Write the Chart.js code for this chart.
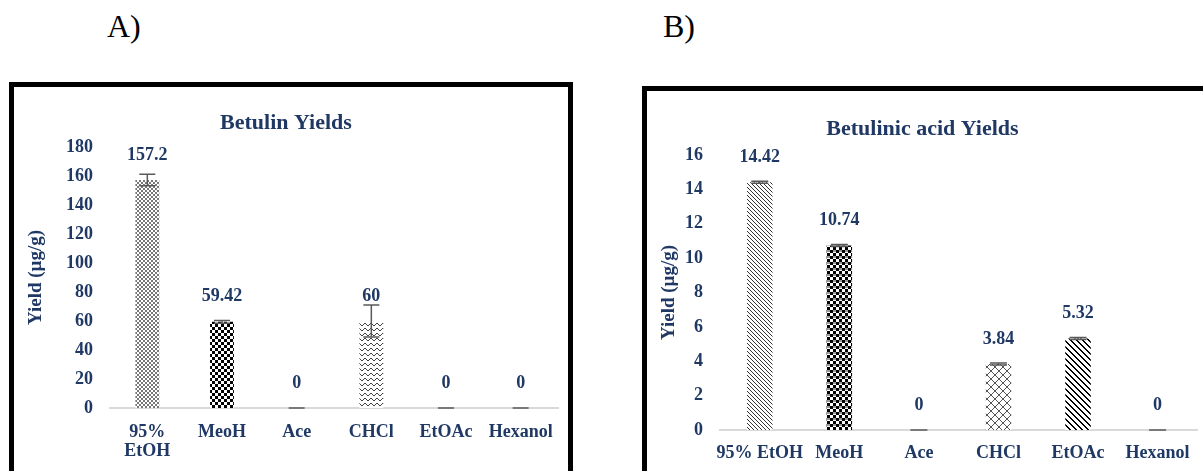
<!DOCTYPE html>
<html lang="en">
  <head>
    <meta charset="UTF-8" />
    <script src="https://cdn.jsdelivr.net/npm/chart.js@4.4.1/dist/chart.umd.min.js"></script>
    <style>
      body {
        margin: 0;
        width: 1203px;
        height: 471px;
        overflow: hidden;
        background: #fff;
        position: relative;
        font-family: "Liberation Serif", "Times New Roman", serif;
      }
      .tag {
        position: absolute;
        top: 8px;
        font-size: 32px;
        color: #000;
      }
      .box {
        position: absolute;
        border: 5px solid #000;
        background: #fff;
      }
      #boxA { left: 9px; top: 82px; width: 554px; height: 420px; }
      #boxB { left: 642px; top: 86px; width: 600px; height: 420px; }
      canvas { position: absolute; left: 0; top: 0; }
    </style>
    <title>Betulin yields</title>
  </head>
  <body>
    <div class="tag" style="left: 107px">A)</div>
    <div class="tag" style="left: 663px">B)</div>
    <div class="box" id="boxA"><canvas id="chartA" width="554" height="384"></canvas></div>
    <div class="box" id="boxB"><canvas id="chartB" width="556" height="380"></canvas></div>
    <script>
      const categoriesA = [["95%", "EtOH"], "MeoH", "Ace", "CHCl", "EtOAc", "Hexanol"];
      const betulinValues = [157.2, 59.42, 0, 60, 0, 0];
      const betulinErrors = [4, 1, 0, 11, 0, 0];

      const categoriesB = ["95% EtOH", "MeoH", "Ace", "CHCl", "EtOAc", "Hexanol"];
      const acidValues = [14.42, 10.74, 0, 3.84, 5.32, 0];
      const acidErrors = [0.06, 0.06, 0, 0.06, 0.06, 0];

      const navy = "#1F3864";
      const font = { family: "'Liberation Serif', 'Times New Roman', serif", size: 18, weight: "bold", lineHeight: 1.1 };

      // little tiles for the hatch fills
      function makePattern(w, h, draw) {
        const c = document.createElement("canvas");
        c.width = w;
        c.height = h;
        const g = c.getContext("2d");
        g.fillStyle = "#fff";
        g.fillRect(0, 0, w, h);
        draw(g);
        return document.getElementById("chartA").getContext("2d").createPattern(c, "repeat");
      }

      const fineCross = makePattern(4, 4, (g) => {
        g.fillStyle = "#777";
        for (let i = 0; i < 4; i++) {
          g.fillRect(i, i, 1, 1);
          g.fillRect(i, 3 - i, 1, 1);
        }
      });
      const checker = makePattern(6, 6, (g) => {
        g.fillStyle = "#000";
        g.fillRect(0, 0, 3, 3);
        g.fillRect(3, 3, 3, 3);
      });
      const zigzag = makePattern(6, 5, (g) => {
        g.strokeStyle = "#444";
        g.lineWidth = 1;
        g.beginPath();
        g.moveTo(0, 4);
        g.lineTo(3, 1);
        g.lineTo(6, 4);
        g.stroke();
      });
      const fineDiag = makePattern(4, 4, (g) => {
        g.fillStyle = "#333";
        for (let i = 0; i < 4; i++) g.fillRect(i, i, 1, 1);
      });
      const greyChecker = makePattern(6, 6, (g) => {
        g.fillStyle = "#999";
        g.fillRect(0, 3, 6, 2);
        g.fillStyle = "#000";
        g.fillRect(0, 0, 3, 3);
        g.fillRect(3, 3, 3, 3);
      });
      const crossHatch = makePattern(8, 8, (g) => {
        g.fillStyle = "#555";
        for (let i = 0; i < 8; i++) {
          g.fillRect(i, i, 1, 1);
          g.fillRect(i, 7 - i, 1, 1);
        }
      });
      const wideDiag = makePattern(6, 6, (g) => {
        g.fillStyle = "#000";
        for (let i = 0; i < 6; i++) g.fillRect(i, i, 2, 1);
        g.fillRect(0, 5, 1, 1);
      });

      // error bars + value labels, drawn from the bar elements and the y scale
      const extras = {
        id: "extras",
        afterDatasetsDraw(chart, args, opts) {
          const ctx = chart.ctx;
          const y = chart.scales.y;
          const ds = chart.data.datasets[0];
          const bars = chart.getDatasetMeta(0).data;
          ctx.save();
          bars.forEach((bar, i) => {
            const v = ds.data[i];
            const e = opts.errors[i];
            const top = y.getPixelForValue(v + e);
            const bot = y.getPixelForValue(Math.max(v - e, 0));
            const hw = opts.cap / 2;
            ctx.strokeStyle = "#595959";
            ctx.lineWidth = 1.5;
            ctx.beginPath();
            ctx.moveTo(bar.x, top);
            ctx.lineTo(bar.x, bot);
            ctx.moveTo(bar.x - hw, top);
            ctx.lineTo(bar.x + hw, top);
            ctx.moveTo(bar.x - hw, bot);
            ctx.lineTo(bar.x + hw, bot);
            ctx.stroke();

            ctx.fillStyle = navy;
            ctx.font = "bold 18px 'Liberation Serif', 'Times New Roman', serif";
            ctx.textAlign = "center";
            ctx.textBaseline = "middle";
            ctx.fillText(String(v), bar.x, bar.y - 25);
          });
          ctx.restore();
        },
      };

      function makeChart(id, labels, values, errors, fills, titleText, max, step, o) {
        return new Chart(document.getElementById(id), {
          type: "bar",
          data: {
            labels,
            datasets: [
              {
                data: values,
                backgroundColor: fills,
                borderWidth: 0,
                barPercentage: 0.32,
                categoryPercentage: 1,
              },
            ],
          },
          options: {
            responsive: false,
            animation: false,
            layout: { padding: { left: 0, right: o.right, top: 0, bottom: 0 } },
            plugins: {
              legend: { display: false },
              tooltip: { enabled: false },
              title: {
                display: true,
                text: titleText,
                color: navy,
                font: { ...font, size: 22, lineHeight: 1.2 },
                padding: { top: o.titleTop, bottom: o.titleBottom },
              },
              extras: { errors, cap: o.cap },
            },
            scales: {
              x: {
                grid: { display: false, drawTicks: false },
                border: { display: true, color: "#d9d9d9", width: 2 },
                ticks: { color: navy, font, padding: o.xPad, maxRotation: 0, autoSkip: false },
                afterFit: (s) => { s.height = o.xHeight; },
              },
              y: {
                min: 0,
                max,
                grid: { display: false, drawTicks: false },
                border: { display: false },
                ticks: { stepSize: step, color: navy, font, padding: 17 },
                title: {
                  display: true,
                  text: "Yield (µg/g)",
                  color: navy,
                  font: { ...font, size: 19 },
                  padding: { top: 12, bottom: 0 },
                },
                afterFit: (s) => { s.width = o.yWidth; },
              },
            },
          },
          plugins: [extras],
        });
      }

      makeChart("chartA", categoriesA, betulinValues, betulinErrors,
        [fineCross, checker, "#fff", zigzag, "#fff", "#fff"],
        "Betulin Yields", 180, 20,
        { right: 10, titleTop: 22.8, titleBottom: 10.8, xPad: 14, xHeight: 63, yWidth: 96, cap: 16 });

      makeChart("chartB", categoriesB, acidValues, acidErrors,
        [fineDiag, greyChecker, "#fff", crossHatch, wideDiag, "#fff"],
        "Betulinic acid Yields", 16, 2,
        { right: 5, titleTop: 24.8, titleBottom: 12.8, xPad: 13, xHeight: 41, yWidth: 73, cap: 17 });
    </script>
  </body>
</html>
